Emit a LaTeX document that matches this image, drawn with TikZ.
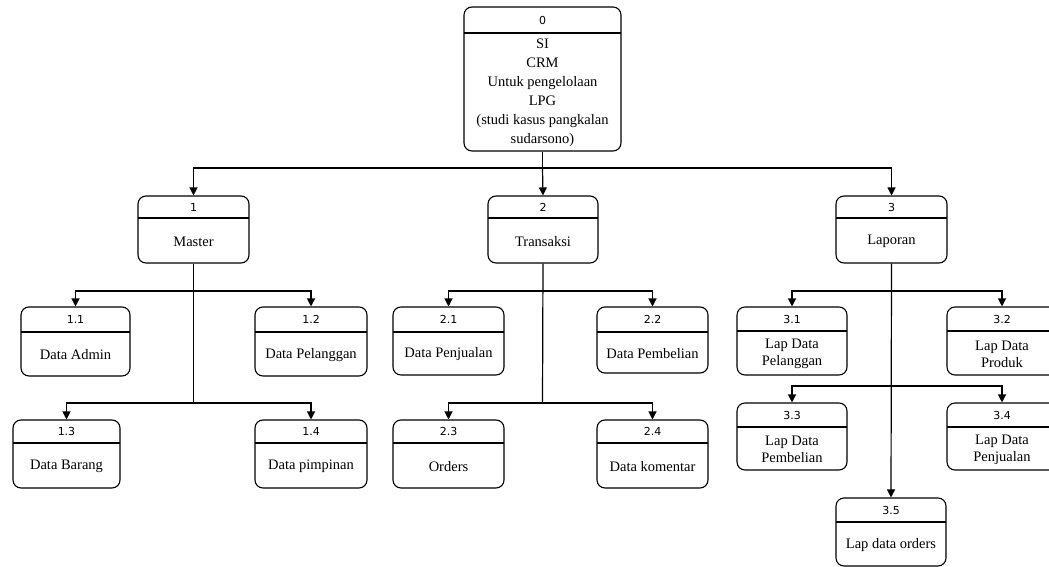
\documentclass[tikz,border=0pt]{standalone}
\usepackage{fontspec}
\setmainfont{Liberation Serif}
\newfontfamily\numfont{DejaVu Sans}
\usetikzlibrary{arrows.meta}
\tikzset{
  pbox/.style={draw, rounded corners=8pt, line width=1.1pt, inner sep=0pt, fill=white},
  boxline/.style={line width=1.1pt},
  numtxt/.style={font=\numfont\fontsize{11}{12}\selectfont, inner sep=0pt},
  bodytxt/.style={font=\fontsize{14.5}{19}\selectfont, align=center, inner sep=0pt},
  conn/.style={line width=1.2pt},
  arr/.style={conn, -{Triangle[length=8pt,width=8pt]}}
}
\newcommand\pbox[8]{%
  \node[pbox, minimum width={#4-#2}, minimum height={#5-#3}] (#1) at ({(#2+#4)/2},{(#3+#5)/2}) {};
  \draw[boxline] (#2,#6) -- (#4,#6);
  \node[numtxt] (#1n) at ({(#2+#4)/2},{(#3+#6)/2}) {#7};
  \node[bodytxt] (#1t) at ({(#2+#4)/2},{(#6+#5)/2+1}) {#8};
}
\begin{document}
\begin{tikzpicture}[x=1pt,y=-1pt]
\useasboundingbox (0,0) rectangle (1049,567);
\clip (0,0) rectangle (1049,567);
\fill[white] (0,0) rectangle (1049,567);
% boxes
\pbox{b0}{464}{7}{621}{151}{33}{0}{SI\\CRM\\Untuk pengelolaan\\LPG\\(studi kasus pangkalan\\sudarsono)}
\pbox{b1}{138}{196}{249}{263}{218}{1}{Master}
\pbox{b2}{488}{196}{598}{263}{218}{2}{Transaksi}
\pbox{b3}{836}{196}{947}{263}{218}{3}{Laporan}
\pbox{b11}{21}{307}{130}{376}{332}{1.1}{Data Admin}
\pbox{b12}{255}{307}{367}{376}{332}{1.2}{Data Pelanggan}
\pbox{b13}{13}{420}{120}{488}{443}{1.3}{Data Barang}
\pbox{b14}{255}{420}{367}{488}{443}{1.4}{Data pimpinan}
\pbox{b21}{393}{307}{504}{375}{332}{2.1}{Data Penjualan}
\pbox{b22}{597}{307}{708}{373}{332}{2.2}{Data Pembelian}
\pbox{b23}{393}{420}{504}{488}{443}{2.3}{Orders}
\pbox{b24}{597}{420}{708}{488}{443}{2.4}{Data komentar}
\pbox{b31}{737}{307}{847}{375}{331}{3.1}{Lap Data\\[-2pt]Pelanggan}
\pbox{b32}{947}{307}{1057}{375}{331}{3.2}{Lap Data\\[-2pt]Produk}
\pbox{b33}{737}{403}{847}{470}{427}{3.3}{Lap Data\\[-2pt]Pembelian}
\pbox{b34}{947}{403}{1057}{470}{427}{3.4}{Lap Data\\[-2pt]Penjualan}
\pbox{b35}{836}{498}{946}{566}{522}{3.5}{Lap data orders}
% junctions
\coordinate (j0) at (542.5,168);
\coordinate (j1a) at (193.5,291);
\coordinate (j1b) at (193.5,403);
\coordinate (j2a) at (542.5,291);
\coordinate (j2b) at (542.5,403);
\coordinate (j3a) at (891.5,291);
\coordinate (j3b) at (891.5,386);
% level 1
\draw[conn] (b0.south) -- (j0);
\draw[arr] (j0) -| (b1.north);
\draw[arr] (j0) -- (b2.north);
\draw[arr] (j0) -| (b3.north);
% master
\draw[conn] (b1.south) -- (j1b);
\draw[arr] (j1a) -| (b11.north);
\draw[arr] (j1a) -| (b12.north);
\draw[arr] (j1b) -| (b13.north);
\draw[arr] (j1b) -| (b14.north);
% transaksi
\draw[conn] (b2.south) -- (j2b);
\draw[arr] (j2a) -| (b21.north);
\draw[arr] (j2a) -| (b22.north);
\draw[arr] (j2b) -| (b23.north);
\draw[arr] (j2b) -| (b24.north);
% laporan
\draw[arr] (b3.south) -- (b35.north);
\draw[arr] (j3a) -| (b31.north);
\draw[arr] (j3a) -| (b32.north);
\draw[arr] (j3b) -| (b33.north);
\draw[arr] (j3b) -| (b34.north);
\end{tikzpicture}
\end{document}
